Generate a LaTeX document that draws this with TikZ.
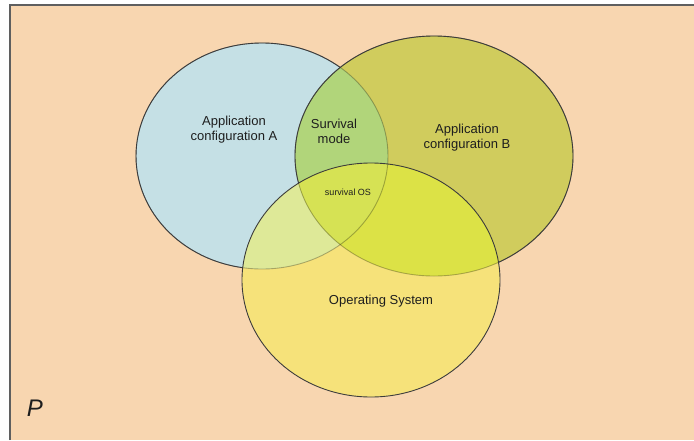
\documentclass[tikz,border=0pt]{standalone}
\usepackage{fontspec}
\setmainfont{Liberation Sans}
\definecolor{bgpeach}{RGB}{248,214,176}
\definecolor{colA}{RGB}{197,224,229}
\definecolor{colB}{RGB}{208,204,93}
\definecolor{colC}{RGB}{246,226,122}
\definecolor{colAB}{RGB}{177,213,122}
\definecolor{colAC}{RGB}{222,233,152}
\definecolor{colBC}{RGB}{220,226,70}
\definecolor{colABC}{RGB}{214,226,84}
\definecolor{edgegray}{RGB}{60,60,60}
\definecolor{framegray}{RGB}{95,95,95}
\definecolor{inkgray}{RGB}{30,30,30}
\tikzset{
  frameline/.style={draw=framegray, line width=1.6pt},
  edge/.style={draw=edgegray, line width=0.9pt},
  fadededge/.style={draw=black, draw opacity=0.28, line width=0.9pt},
  lbl/.style={text=inkgray, align=center, inner sep=0pt, font=\fontsize{13}{15}\selectfont},
}
% the three sets
\def\setA{(262,156) ellipse [x radius=126, y radius=113]}
\def\setB{(434,156) ellipse [x radius=139, y radius=120]}
\def\setC{(371,280) ellipse [x radius=129, y radius=117]}
\def\everything{(-10,-10) rectangle (704,450)}
\begin{document}
\begin{tikzpicture}[x=1pt,y=-1pt]
\useasboundingbox (0,0) rectangle (694,440);
% universe
\fill[bgpeach] (10,5) rectangle (694,440);
\coordinate (fbl) at (10,440);
\coordinate (ftl) at (10,5);
\coordinate (ftr) at (694,5);
\draw[frameline] (fbl) -- (ftl) -- (ftr);
% region fills
\fill[colA] \setA;
\fill[colB] \setB;
\fill[colC] \setC;
\begin{scope}
  \clip \setA;
  \fill[colAB] \setB;
  \fill[colAC] \setC;
\end{scope}
\begin{scope}
  \clip \setB;
  \fill[colBC] \setC;
  \clip \setA;
  \fill[colABC] \setC;
\end{scope}
% outlines seen through the later sets
\path[fadededge] \setA;
\path[fadededge] \setB;
% outlines drawn on top
\begin{scope}[even odd rule]
  \clip \everything \setB;
  \begin{scope}[even odd rule]
    \clip \everything \setC;
    \path[edge] \setA;
  \end{scope}
\end{scope}
\begin{scope}[even odd rule]
  \clip \everything \setC;
  \path[edge] \setB;
\end{scope}
\path[edge] \setC;
% labels
\node[lbl] (tA) at (234,130) {Application\\configuration A};
\node[lbl] (tM) at (334,131) {Survival\\mode};
\node[lbl] (tB) at (467,138) {Application\\configuration B};
\node[lbl, font=\fontsize{9}{10}\selectfont] (tS) at (348,192) {survival OS};
\node[lbl] (tO) at (381,301) {Operating System};
\node[lbl, font=\fontsize{24}{26}\selectfont\itshape] (tP) at (35,408) {P};
\end{tikzpicture}
\end{document}
